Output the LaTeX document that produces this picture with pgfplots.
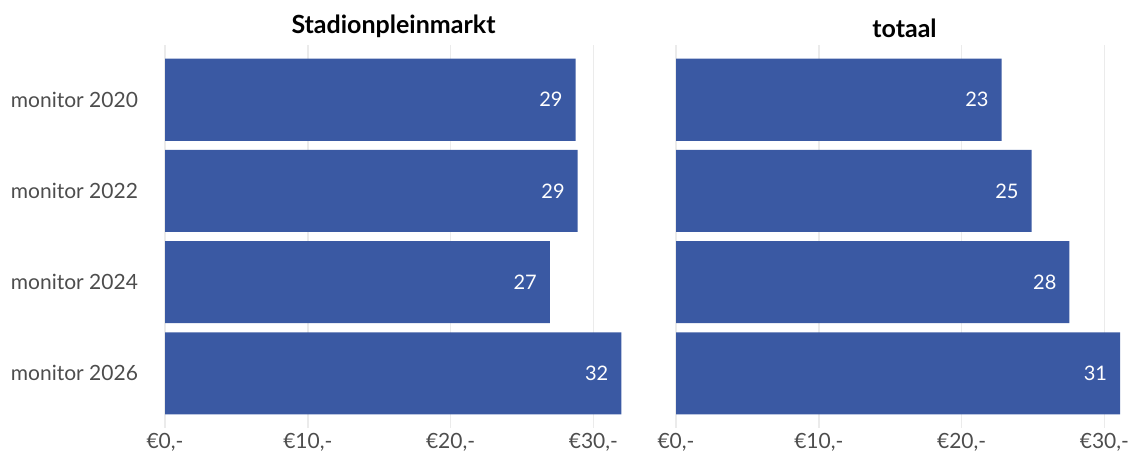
\documentclass[border=0pt]{standalone}
\usepackage{fontspec}
\setmainfont{Lato}
\usepackage{pgfplots}
\pgfplotsset{compat=1.18}
\definecolor{barblue}{RGB}{58,89,163}
\definecolor{ticktext}{RGB}{77,77,77}
\definecolor{gridgray}{RGB}{235,235,235}

\pgfplotsset{
  panel/.style={
    scale only axis,
    width=228.5pt, height=191.5pt,
    anchor=south west,
    xbar, bar shift=0pt, bar width=0.9,
    xmin=0, xmax=32,
    ymin=-0.6, ymax=3.6, y dir=reverse,
    axis line style={draw=none},
    xmajorgrids, major grid style={gridgray, line width=0.8pt},
    xtick={0,10,20,30},
    xticklabels={{€0{,}-},{€10{,}-},{€20{,}-},{€30{,}-}},
    ytick={0,1,2,3},
    major tick length=0pt,
    tick label style={font=\fontsize{10.5}{12}\selectfont, text=ticktext},
    xticklabel style={yshift=1pt},
    title style={font=\fontsize{12.5}{14}\bfseries, yshift=-6pt},
    nodes near coords,
    point meta=explicit symbolic,
    every node near coord/.append style={anchor=east, xshift=-3pt, text=white, font=\fontsize{10}{12}\selectfont},
  },
}

\begin{document}
\begin{tikzpicture}
\path[use as bounding box] (0,0) rectangle (567.5pt,225pt);

\begin{axis}[panel, at={(82.5pt,11pt)},
  yticklabels={monitor 2020, monitor 2022, monitor 2024, monitor 2026},
  yticklabel style={xshift=-10pt},
  title={Stadionpleinmarkt}]
\addplot[fill=barblue, draw=none] coordinates {
  (28.75,0) [29]
  (28.9,1) [29]
  (26.95,2) [27]
  (31.95,3) [32]
};
\end{axis}

\begin{axis}[panel, at={(338pt,11pt)},
  yticklabels={},
  title={totaal}]
\addplot[fill=barblue, draw=none] coordinates {
  (22.8,0) [23]
  (24.9,1) [25]
  (27.55,2) [28]
  (31.1,3) [31]
};
\end{axis}
\end{tikzpicture}
\end{document}
